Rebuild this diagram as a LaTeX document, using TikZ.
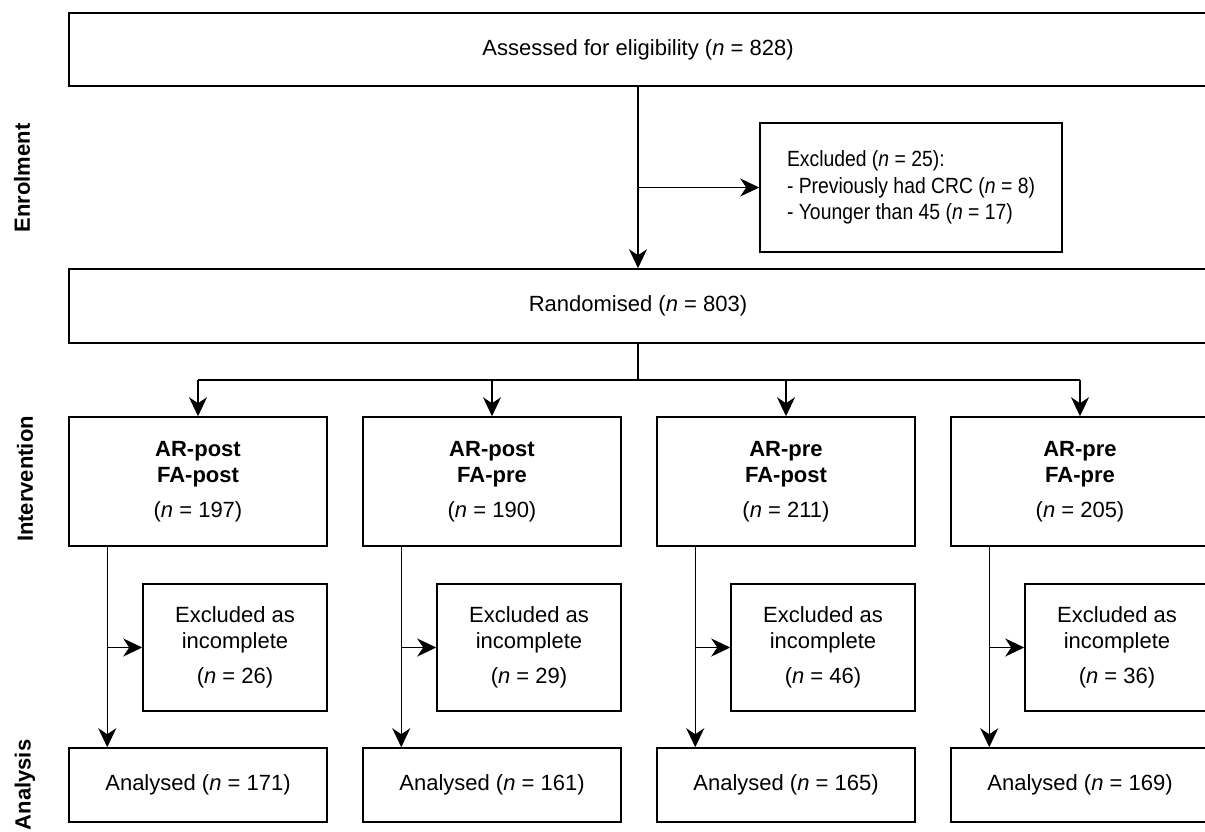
\documentclass[tikz,border=0pt]{standalone}
\usepackage{fontspec}
\setmainfont{Liberation Sans}
\newfontfamily\narrowsans[FakeStretch=0.88]{Liberation Sans}
\usetikzlibrary{arrows.meta,positioning,calc}

\begin{document}
\begin{tikzpicture}[
    x=1pt, y=-1pt,
    box/.style={draw, line width=1.5pt, inner sep=0pt, align=center, font=\fontsize{22}{26}\selectfont},
    arm/.style={box, minimum width=258pt, minimum height=129pt},
    drop/.style={box, minimum width=184pt, minimum height=127pt},
    res/.style={box, minimum width=258pt, minimum height=74pt},
    stage/.style={rotate=90, font=\fontsize{22}{26}\selectfont\bfseries},
    arr/.style={-{Stealth[length=19pt, width=18pt, inset=6pt]}, line width=1.5pt},
    line/.style={line width=1.5pt},
]
\useasboundingbox (0,0) rectangle (1205,832);

% Enrolment
\node[box, minimum width=1138pt, minimum height=73pt] (elig) at (638,49.5) {Assessed for eligibility (\textit{n} = 828)};
\node[box, minimum width=302pt, minimum height=129pt, align=left, font=\fontsize{22}{26.5}\narrowsans] (exc) at (911,187.5) {Excluded (\textit{n} = 25):\\- Previously had CRC (\textit{n} = 8)\\- Younger than 45 (\textit{n} = 17)};
\node[box, minimum width=1138pt, minimum height=74pt] (rnd) at (638,306) {Randomised (\textit{n} = 803)};

% Intervention arms
\node[arm] (iv1) at (198,481.5) {\textbf{AR-post}\\\textbf{FA-post}\\[9pt](\textit{n} = 197)};
\node[arm] (iv2) at (492,481.5) {\textbf{AR-post}\\\textbf{FA-pre}\\[9pt](\textit{n} = 190)};
\node[arm] (iv3) at (786,481.5) {\textbf{AR-pre}\\\textbf{FA-post}\\[9pt](\textit{n} = 211)};
\node[arm] (iv4) at (1080,481.5) {\textbf{AR-pre}\\\textbf{FA-pre}\\[9pt](\textit{n} = 205)};

% Incomplete
\node[drop] (ex1) at (235,647.5) {Excluded as\\incomplete\\[9pt](\textit{n} = 26)};
\node[drop] (ex2) at (529,647.5) {Excluded as\\incomplete\\[9pt](\textit{n} = 29)};
\node[drop] (ex3) at (823,647.5) {Excluded as\\incomplete\\[9pt](\textit{n} = 46)};
\node[drop] (ex4) at (1117,647.5) {Excluded as\\incomplete\\[9pt](\textit{n} = 36)};

% Analysis
\node[res] (an1) at (198,785) {Analysed (\textit{n} = 171)};
\node[res] (an2) at (492,785) {Analysed (\textit{n} = 161)};
\node[res] (an3) at (786,785) {Analysed (\textit{n} = 165)};
\node[res] (an4) at (1080,785) {Analysed (\textit{n} = 169)};

% Stage labels
\node[stage] (lenrol) at (22,178) {Enrolment};
\node[stage] (linter) at (25,479) {Intervention};
\node[stage] (lanaly) at (25,785) {Analysis};

% Enrolment arrows
\draw[arr] (elig) -- (rnd);
\draw[arr] (elig.south |- exc.west) -- (exc.west);

% Randomisation split
\coordinate (split) at (638,380);
\draw[line] (rnd) -- (split);
\draw[line] (iv1.north |- split) -- (iv4.north |- split);
\draw[arr] (iv1.north |- split) -- (iv1);
\draw[arr] (iv2.north |- split) -- (iv2);
\draw[arr] (iv3.north |- split) -- (iv3);
\draw[arr] (iv4.north |- split) -- (iv4);

% Drop-outs and analysis
\coordinate (d1) at ([xshift=39pt]iv1.south west);
\coordinate (d2) at ([xshift=39pt]iv2.south west);
\coordinate (d3) at ([xshift=39pt]iv3.south west);
\coordinate (d4) at ([xshift=39pt]iv4.south west);
\draw[arr] (d1) -- (d1 |- an1.north);
\draw[arr] (d2) -- (d2 |- an2.north);
\draw[arr] (d3) -- (d3 |- an3.north);
\draw[arr] (d4) -- (d4 |- an4.north);
\draw[arr] (d1 |- ex1.west) -- (ex1.west);
\draw[arr] (d2 |- ex2.west) -- (ex2.west);
\draw[arr] (d3 |- ex3.west) -- (ex3.west);
\draw[arr] (d4 |- ex4.west) -- (ex4.west);
\end{tikzpicture}
\end{document}
